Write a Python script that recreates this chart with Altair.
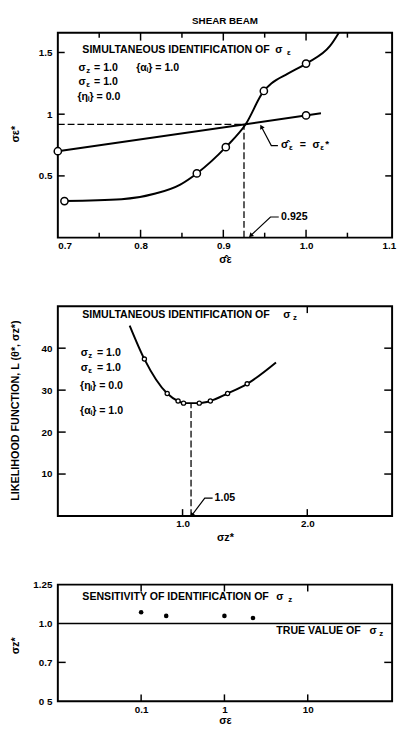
import altair as alt
import pandas as pd

FONT = "Liberation Sans"
BIG = 10.8
SUB = 8

# ---------------- Panel 1 : simultaneous identification of sigma_eps ----------------
p1_curve_x = [0.708, 0.777, 0.818, 0.848, 0.868, 0.903, 0.927, 0.949, 0.958, 0.978, 1.000, 1.029, 1.045]
p1_curve_y = [0.296, 0.310, 0.357, 0.430, 0.520, 0.733, 0.918, 1.188, 1.248, 1.328, 1.410, 1.553, 1.720]
p1_curve_mk_x = [0.708, 0.868, 0.903, 0.949, 1.000]
p1_curve_mk_y = [0.296, 0.520, 0.733, 1.188, 1.410]
p1_line_x = [0.700, 1.018]
p1_line_y = [0.700, 1.007]
p1_line_mk_x = [0.700, 1.000]
p1_line_mk_y = [0.700, 0.990]
p1_cross = (0.925, 0.918)
p1_xmajor = [0.8, 0.9, 1.0]
p1_xminor = [0.75, 0.85, 0.95, 1.05]
p1_xlabels = [0.7, 0.8, 0.9, 1.0, 1.1]
p1_yticks = [0.5, 1.0, 1.5]

# ---------------- Panel 2 : likelihood function ----------------
p2_curve_x = [0.576, 0.694, 0.877, 0.964, 1.008, 1.134, 1.223, 1.361, 1.518, 1.749]
p2_curve_y = [45.4, 37.4, 29.2, 27.4, 26.9, 26.9, 27.4, 29.2, 31.5, 36.6]
p2_mk_x = [0.694, 0.877, 0.964, 1.008, 1.134, 1.223, 1.361, 1.518]
p2_mk_y = [37.4, 29.2, 27.4, 26.9, 26.9, 27.4, 29.2, 31.5]
p2_min = (1.068, 26.7)
p2_xticks = [1.0, 2.0]
p2_xticks_top = [2.0]
p2_yticks = [10, 20, 30, 40]

# ---------------- Panel 3 : sensitivity ----------------
p3_x = [0.1, 0.2, 1.0, 2.2]
p3_y = [1.072, 1.049, 1.049, 1.035]
p3_true = 1.0
p3_xticks = [0.1, 1, 10]
p3_ytick_vals = [0.5, 0.75, 1.0, 1.25]
p3_ytick_labels = ["0 5", "0.7", "1.0", "1.25"]
p3_yinner = [0.75]

W = 341
H1, H2, H3 = 209, 214, 119


def axis_common(**kw):
    base = dict(domain=False, ticks=False, grid=False, labelFont=FONT, labelFontWeight="bold",
                labelFontSize=10, labelColor="black", titleFont=FONT, titleFontWeight="bold",
                titleFontSize=11, titleColor="black")
    base.update(kw)
    return alt.Axis(**base)


class Panel:
    def __init__(self, xs, ys, xaxis, yaxis, H):
        self.xs, self.ys, self.xaxis, self.yaxis, self.H = xs, ys, xaxis, yaxis, H

    def X(self, f="x"):
        return alt.X(f + ":Q", scale=self.xs, axis=self.xaxis)

    def Y(self, f="y"):
        return alt.Y(f + ":Q", scale=self.ys, axis=self.yaxis)

    def enc(self, **extra):
        d = dict(x=self.X(), y=self.Y())
        d.update(extra)
        return d

    def line(self, xs_, ys_, **mk):
        return alt.Chart(pd.DataFrame({"x": xs_, "y": ys_})).mark_line(**mk).encode(**self.enc())

    def points(self, xs_, ys_, **mk):
        return alt.Chart(pd.DataFrame({"x": xs_, "y": ys_})).mark_point(**mk).encode(**self.enc())

    def vrule(self, x, y0, y1, **mk):
        d = pd.DataFrame({"x": [x], "y": [y0], "y2": [y1]})
        return alt.Chart(d).mark_rule(**mk).encode(**self.enc(y2="y2:Q"))

    def texts(self, items, size, dy=0):
        d = pd.DataFrame(items, columns=["t", "x", "y"])
        return alt.Chart(d).mark_text(align="left", baseline="middle", font=FONT, fontWeight="bold",
                                      fontSize=size, dy=dy, color="black").encode(**self.enc(text="t:N"))

    def xticks(self, vals, length, top=False):
        d = pd.DataFrame({"x": vals})
        if top:
            yv, y2v = alt.value(0), alt.value(length)
        else:
            yv, y2v = alt.value(self.H), alt.value(self.H - length)
        return alt.Chart(d).mark_rule(color="black", strokeWidth=1.5).encode(x=self.X(), y=yv, y2=y2v)

    def yticks(self, vals, length, right=False):
        d = pd.DataFrame({"y": vals})
        if right:
            xv, x2v = alt.value(W), alt.value(W - length)
        else:
            xv, x2v = alt.value(0), alt.value(length)
        return alt.Chart(d).mark_rule(color="black", strokeWidth=1.5).encode(y=self.Y(), x=xv, x2=x2v)

    def leader(self, xs_, ys_, angle):
        ln = self.line(xs_, ys_, color="black", strokeWidth=1.2)
        hd = self.points(xs_[:1], ys_[:1], shape="triangle-up", filled=True, color="black",
                         size=28, angle=angle, opacity=1)
        return [ln, hd]


# ---------- Panel 1 ----------
P1 = Panel(
    alt.Scale(domain=[0.7, 1.104], nice=False, zero=False),
    alt.Scale(domain=[0, 1.66], nice=False, zero=False),
    axis_common(values=p1_xlabels, format=".1f", labelPadding=3,
                title="σ̂ε", titleY=22, titleBaseline="middle"),
    axis_common(values=p1_yticks, format="~g", labelPadding=6,
                title="σε*", titleX=-43, titleY=103, titleBaseline="middle", titleAngle=270),
    H1)

p1_layers = [
    P1.line([0.7, p1_cross[0]], [p1_cross[1], p1_cross[1]], color="black", strokeWidth=1.3, strokeDash=[7, 3]),
    P1.vrule(p1_cross[0], 0.0, p1_cross[1], color="black", strokeWidth=1.3, strokeDash=[7, 3]),
    P1.line(p1_curve_x, p1_curve_y, color="black", strokeWidth=2, interpolate="monotone", clip=True),
    P1.line(p1_line_x, p1_line_y, color="black", strokeWidth=2),
    P1.points(p1_curve_mk_x + p1_line_mk_x, p1_curve_mk_y + p1_line_mk_y, shape="circle", filled=True,
              fill="white", stroke="black", strokeWidth=1.5, size=55, opacity=1),
    P1.xticks(p1_xmajor, 8), P1.xticks(p1_xminor, 5),
    P1.xticks(p1_xmajor, 8, top=True), P1.xticks(p1_xminor, 5, top=True),
    P1.yticks(p1_yticks, 7), P1.yticks(p1_yticks, 7, right=True),
    P1.texts([("SIMULTANEOUS IDENTIFICATION OF", 0.7296, 1.516), ("σ", 0.9627, 1.516),
              ("σ", 0.7249, 1.373), ("= 1.0", 0.7438, 1.373),
              ("σ", 0.7249, 1.262), ("= 1.0", 0.7438, 1.262),
              ("{ηᵢ} = 0.0", 0.7237, 1.135), ("{αᵢ} = 1.0", 0.7947, 1.373),
              ("σ̂", 0.9698, 0.746), ("=", 0.9923, 0.746), ("σ", 1.0077, 0.746),
              ("0.925", 0.9698, 0.167)], BIG),
    P1.texts([("ε", 0.9769, 1.516), ("z", 0.7343, 1.373), ("ε", 0.7343, 1.262),
              ("ε", 0.9793, 0.746), ("ε", 1.0172, 0.746)], SUB, dy=3),
    P1.texts([("*", 1.0231, 0.746)], 10, dy=-2),
]
p1_layers += P1.leader([0.946, 0.958, 0.966], [0.899, 0.746, 0.746], 332)
p1_layers += P1.leader([0.933, 0.957, 0.967], [0.016, 0.167, 0.167], 226)

panel1 = alt.layer(*p1_layers).properties(
    width=W, height=H1,
    title=alt.TitleParams("SHEAR BEAM", font=FONT, fontSize=10, fontWeight="bold", color="black",
                          anchor="middle", offset=6))

# ---------- Panel 2 ----------
P2 = Panel(
    alt.Scale(domain=[0, 2.68], nice=False, zero=False),
    alt.Scale(domain=[0, 50], nice=False, zero=False),
    axis_common(values=p2_xticks, format=".1f", labelPadding=3,
                title="σz*", titleY=22, titleBaseline="middle"),
    axis_common(values=p2_yticks, format="d", labelPadding=6,
                title="LIKELIHOOD FUNCTION, L (θ*, σz*)", titleX=-43, titleY=106,
                titleBaseline="middle", titleAngle=270, titleFontSize=11),
    H2)

p2_layers = [
    P2.vrule(p2_min[0], 0.0, p2_min[1], color="black", strokeWidth=1.3, strokeDash=[7, 3]),
    P2.line(p2_curve_x, p2_curve_y, color="black", strokeWidth=2, interpolate="monotone"),
    P2.points(p2_mk_x, p2_mk_y, shape="circle", filled=True, fill="white", stroke="black",
              strokeWidth=1.3, size=18, opacity=1),
    P2.xticks(p2_xticks, 7), P2.xticks(p2_xticks_top, 7, top=True),
    P2.yticks(p2_yticks, 8), P2.yticks(p2_yticks, 8, right=True),
    P2.texts([("SIMULTANEOUS IDENTIFICATION OF", 0.196, 47.9), ("σ", 1.807, 47.9),
              ("σ", 0.183, 38.8), ("= 1.0", 0.314, 38.8),
              ("σ", 0.183, 35.3), ("= 1.0", 0.314, 35.3),
              ("{ηᵢ} = 0.0", 0.178, 31.0), ("{αᵢ} = 1.0", 0.178, 25.1),
              ("1.05", 1.257, 4.25)], BIG),
    P2.texts([("z", 1.885, 47.9), ("z", 0.244, 38.8), ("ε", 0.244, 35.3)], SUB, dy=3),
]
p2_layers += P2.leader([1.074, 1.178, 1.241], [0.17, 4.25, 4.25], 218)
panel2 = alt.layer(*p2_layers).properties(width=W, height=H2)

# ---------- Panel 3 ----------
lab_expr = " : ".join(
    [f"abs(datum.value - {v}) < 1e-6 ? '{t}'" for v, t in zip(p3_ytick_vals, p3_ytick_labels)]) + " : ''"

P3 = Panel(
    alt.Scale(type="log", domain=[0.01, 103], nice=False),
    alt.Scale(domain=[0.5, 1.25], nice=False, zero=False),
    axis_common(values=p3_xticks, format="~g", labelPadding=3,
                title="σε", titleY=20, titleBaseline="middle"),
    axis_common(values=p3_ytick_vals, labelExpr=lab_expr, labelPadding=6,
                title="σz*", titleX=-43, titleY=62, titleBaseline="middle", titleAngle=270),
    H3)

p3_layers = [
    alt.Chart(pd.DataFrame({"y": [p3_true]})).mark_rule(color="black", strokeWidth=1.5).encode(
        y=P3.Y(), x=alt.value(0), x2=alt.value(W)),
    P3.points(p3_x, p3_y, shape="circle", filled=True, color="black", size=22, opacity=1),
    P3.xticks(p3_xticks, 7), P3.xticks(p3_xticks, 7, top=True),
    P3.yticks(p3_yinner, 8), P3.yticks(p3_yinner, 8, right=True),
    P3.texts([("SENSITIVITY OF IDENTIFICATION OF", 0.01968, 1.170), ("σ", 4.203, 1.170),
              ("TRUE VALUE OF", 4.203, 0.949), ("σ", 55.1, 0.949)], BIG),
    P3.texts([("z", 5.818, 1.170), ("z", 72.3, 0.949)], SUB, dy=3),
]
panel3 = alt.layer(*p3_layers).properties(width=W, height=H3)

chart = alt.vconcat(panel1, panel2, panel3, spacing=70, bounds="flush").properties(
    padding={"left": 8, "top": 8, "right": 0, "bottom": 0}, background="white"
).configure_view(stroke="black", strokeWidth=2)

chart.save("out.html", embed_options={"renderer": "svg", "actions": False})
